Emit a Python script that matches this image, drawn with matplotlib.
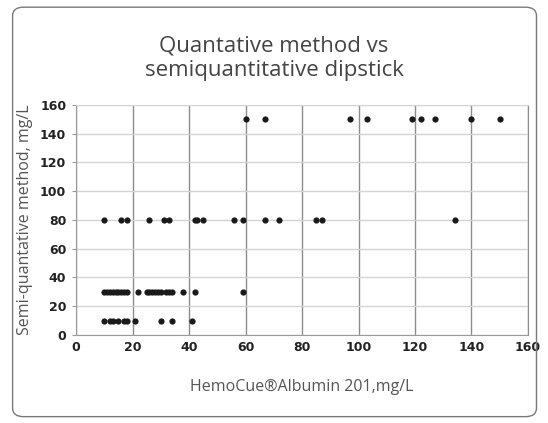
import matplotlib.pyplot as plt
from matplotlib.patches import FancyBboxPatch

# dipstick levels and the HemoCue values read at each level
x_150 = [60, 67, 97, 103, 119, 122, 127, 140, 150]
x_80 = [10, 16, 18, 26, 31, 33, 42, 43, 45, 56, 59, 67, 72, 85, 87, 134]
x_30 = [10, 11, 12, 13, 14, 15, 16, 17, 18, 22, 25, 26, 27, 28, 29, 30,
        32, 33, 34, 38, 42, 59]
x_10 = [10, 12, 13, 15, 17, 18, 21, 30, 34, 41]

levels = {150: x_150, 80: x_80, 30: x_30, 10: x_10}

TEXT_FONT = ['Open Sans', 'DejaVu Sans']

fig = plt.figure(figsize=(5.48, 4.23), dpi=100)
fig.patch.set_facecolor('white')

box = FancyBboxPatch((0.023, 0.015), 0.956, 0.968,
                     boxstyle='round,pad=0,rounding_size=0.02',
                     transform=fig.transFigure, facecolor='none',
                     edgecolor='#7a7a7a', linewidth=1.0)
fig.patches.append(box)

ax = fig.add_axes([0.1387, 0.208, 0.8248, 0.544])

for y, xs in levels.items():
    ax.scatter(xs, [y] * len(xs), s=20, color='#1a1a1a', zorder=3,
               linewidths=0)

ax.set_xlim(0, 160)
ax.set_ylim(0, 160)
ax.set_xticks(range(0, 161, 20))
ax.set_yticks(range(0, 161, 20))

ax.xaxis.grid(True, color='#8c8c8c', linewidth=1.0)
ax.yaxis.grid(True, color='#d4d4d4', linewidth=1.0)
ax.set_axisbelow(True)

ax.spines['left'].set_color('#9a9a9a')
ax.spines['bottom'].set_color('#9a9a9a')
ax.spines['right'].set_color('#8c8c8c')
ax.spines['top'].set_color('#d4d4d4')

ax.tick_params(axis='x', length=0, pad=4, labelsize=9, labelcolor='#222222')
ax.tick_params(axis='y', length=3, color='#9a9a9a', pad=4, labelsize=9,
               labelcolor='#222222')
for lbl in ax.get_xticklabels() + ax.get_yticklabels():
    lbl.set_fontweight('bold')

ax.set_xlabel('HemoCue®Albumin 201,mg/L', fontsize=11.5, color='#555555',
              labelpad=18, family=TEXT_FONT)
ax.set_ylabel('Semi-quantative method, mg/L', fontsize=11.5, color='#555555',
              labelpad=5, family=TEXT_FONT)

fig.text(0.5, 0.862, 'Quantative method vs\nsemiquantitative dipstick',
         ha='center', va='center', fontsize=16, color='#444444',
         linespacing=1.2, family=TEXT_FONT)

fig.savefig('out.png', dpi=100, facecolor='white')
